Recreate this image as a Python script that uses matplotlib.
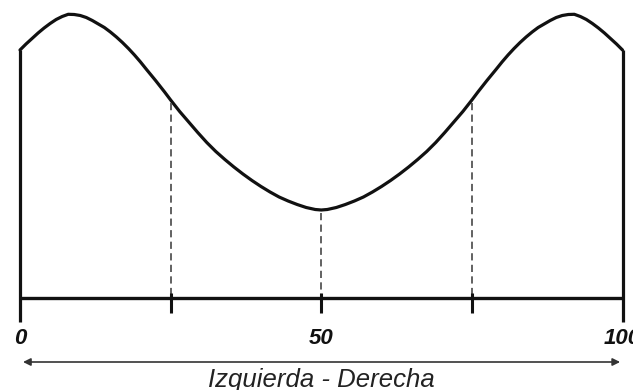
import matplotlib
matplotlib.use("Agg")
import matplotlib.pyplot as plt

# curve (x = position 0..100, h = height above the baseline)
curve_x = [0, 1, 2, 3, 4, 5, 6, 7, 8, 9, 10, 11, 12, 13, 14, 15, 16, 17, 18, 19, 20, 21, 22.5, 24, 25,
           26.5, 28, 29.5, 31, 32.5, 34, 35.5, 37, 38.5, 40, 41.5, 43, 44.5, 46, 47.5, 49, 50,
           51, 52.5, 54, 55.5, 57, 58.5, 60, 61.5, 63, 64.5, 66, 67.5, 69, 70.5, 72, 73.5, 75,
           76, 77.5, 79, 80, 81, 82, 83, 84, 85, 86, 87, 88, 89, 90, 91, 92, 93, 94, 95, 96, 97, 98, 99, 100]
curve_h = [248, 254, 259.5, 265, 270, 274.5, 278.5, 281.5, 283.7, 283.5, 282.5, 280.5, 277.5, 274, 270.5, 266, 261, 255.5,
           249.5, 243, 236, 228.5, 217.5, 206, 198,
           186.5, 176, 165.5, 155.5, 146.5, 138.5, 131, 124, 117.5, 111.5, 106, 101, 97, 93.5, 90.5, 88.5, 88,
           88.5, 90.5, 93.5, 97, 101, 106, 111.5, 117.5, 124, 131, 138.5, 146.5, 155.5, 165.5, 176, 186.5, 198,
           206, 217.5, 228.5, 236, 243, 249.5, 255.5, 261, 266, 270.5, 274, 277.5, 280.5, 282.5, 283.5, 283.7,
           281.5, 278.5, 274.5, 270, 265, 259.5, 254, 248]

guide_x = [25, 50, 75]          # dashed guides
guide_top = [198, 88, 198]
labels_x = [0, 50, 100]
labels = ["0", "50", "100"]
caption = "Izquierda - Derecha"

fig = plt.figure(figsize=(6.33, 3.90), dpi=100)
ax = fig.add_axes([0, 0, 1, 1])
ax.set_xlim(-3.32, 101.74)
ax.set_ylim(-92, 298)
ax.set_axis_off()

ink = "#111111"

ax.plot(curve_x, curve_h, color=ink, lw=2.3, solid_capstyle="round", solid_joinstyle="round")

# end posts and base line
ax.plot([0, 0], [curve_h[0], -24], color=ink, lw=2.3, solid_capstyle="butt")
ax.plot([100, 100], [curve_h[-1], -24], color=ink, lw=2.3, solid_capstyle="butt")
ax.plot([0, 100], [0, 0], color=ink, lw=2.4, solid_capstyle="butt")

for gx, gt in zip(guide_x, guide_top):
    ax.plot([gx, gx], [gt - 3, 1], color="#555555", lw=1.3, linestyle=(0, (4, 2.4)))
    ax.plot([gx, gx], [5, -15], color=ink, lw=2.2, solid_capstyle="butt")

for lx, lab in zip(labels_x, labels):
    ax.text(lx, -40, lab, ha="center", va="center", fontsize=16,
            fontweight="bold", fontstyle="italic", family="Liberation Sans", color=ink)

ax.annotate("", xy=(0.5, -64), xytext=(99.6, -64),
            arrowprops=dict(arrowstyle="<|-|>", color="#333333", lw=1.2,
                            mutation_scale=11, shrinkA=0, shrinkB=0))

ax.text(50, -81.5, caption, ha="center", va="center", fontsize=18.5,
        fontstyle="italic", family="Liberation Sans", color="#222222")

fig.savefig("out.png", dpi=100)
